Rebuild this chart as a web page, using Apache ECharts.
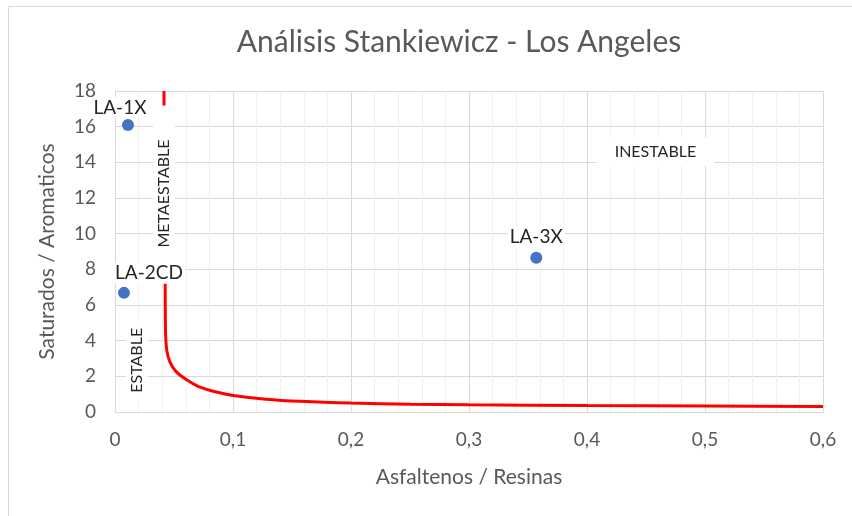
<!DOCTYPE html>
<html>
<head>
<meta charset="utf-8">
<script src="https://cdn.jsdelivr.net/npm/echarts@6/dist/echarts.min.js"></script>
<style>
  html, body { margin: 0; padding: 0; background: #fff; }
  #chart { width: 852px; height: 516px; }
</style>
</head>
<body>
<div id="chart"></div>
<script>
// muestras: [asfaltenos/resinas, saturados/aromaticos]
const sampleNames = ["LA-1X", "LA-2CD", "LA-3X"];
const sampleX = [0.011, 0.0076, 0.357];
const sampleY = [16.1, 6.68, 8.65];

// curva limite Stankiewicz
const curveX = [0.0415, 0.042, 0.0425, 0.0428, 0.0438, 0.0466, 0.052, 0.061, 0.072, 0.086, 0.1, 0.128, 0.157, 0.2, 0.25, 0.3, 0.4, 0.5, 0.6];
const curveY = [18, 12, 7.5, 4.6, 3.5, 2.8, 2.25, 1.8, 1.4, 1.12, 0.93, 0.72, 0.6, 0.5, 0.44, 0.4, 0.36, 0.33, 0.31];

// zonas
const zoneNames = ["ESTABLE", "METAESTABLE", "INESTABLE"];
const zoneX = [0.0186, 0.0415, 0.458];
const zoneY = [2.9, 12.25, 14.6];

const FONT = "Lato";
const comma = (v) => String(Number(v.toFixed(1))).replace(".", ",");

let chart = echarts.init(document.getElementById("chart"));
let option = {
  animation: false,
  textStyle: { fontFamily: FONT },
  title: {
    text: "Análisis Stankiewicz - Los Angeles",
    left: 454,
    top: 22,
    textAlign: "center",
    textStyle: { fontFamily: FONT, fontSize: 30, fontWeight: "normal", color: "#595959" },
  },
  graphic: [
    {
      type: "rect",
      shape: { x: 8.5, y: 6.5, width: 900, height: 600 },
      style: { fill: "none", stroke: "#d9d9d9", lineWidth: 1 },
      silent: true,
    },
  ],
  grid: { left: 115, right: 29, top: 91, bottom: 104 },
  xAxis: {
    type: "value",
    min: 0,
    max: 0.6,
    interval: 0.1,
    name: "Asfaltenos / Resinas",
    nameLocation: "middle",
    nameGap: 55,
    nameTextStyle: { fontFamily: FONT, fontSize: 21, color: "#595959" },
    axisLine: { show: true, lineStyle: { color: "#d9d9d9", width: 1 } },
    axisTick: { show: false },
    axisLabel: { formatter: comma, fontSize: 19, color: "#595959", margin: 18 },
    splitLine: { show: true, lineStyle: { color: "#d9d9d9", width: 1 } },
    minorSplitLine: { show: true, lineStyle: { color: "#f0f0f0", width: 1 } },
    minorTick: { show: false, splitNumber: 5 },
  },
  yAxis: {
    type: "value",
    min: 0,
    max: 18,
    interval: 2,
    name: "Saturados / Aromaticos",
    nameLocation: "middle",
    nameGap: 57,
    nameTextStyle: { fontFamily: FONT, fontSize: 21, color: "#595959" },
    axisLine: { show: true, lineStyle: { color: "#d9d9d9", width: 1 } },
    axisTick: { show: false },
    axisLabel: { fontSize: 19, color: "#595959", margin: 19 },
    splitLine: { show: true, lineStyle: { color: "#d9d9d9", width: 1 } },
  },
  series: [
    {
      type: "line",
      z: 2,
      data: curveX.map((x, i) => [x, curveY[i]]),
      smooth: 0.3,
      showSymbol: false,
      lineStyle: { color: "#ff0000", width: 3 },
    },
    {
      type: "scatter",
      z: 4,
      symbolSize: 12,
      itemStyle: { color: "#4472c4", opacity: 1 },
      data: sampleX.map((x, i) => ({
        name: sampleNames[i],
        value: [x, sampleY[i]],
        label: {
          offset: [[-8, 1], [25, -1], [0, -2]][i],
        },
      })),
      label: {
        show: true,
        position: "top",
        distance: 2,
        formatter: (p) => p.name,
        fontFamily: FONT,
        fontSize: 19,
        color: "#262626",
        backgroundColor: "#fff",
        padding: [1, 2],
      },
    },
    {
      type: "scatter",
      z: 3,
      symbolSize: 0,
      silent: true,
      itemStyle: { opacity: 1 },
      data: zoneX.map((x, i) => ({
        name: zoneNames[i],
        value: [x, zoneY[i]],
        label: [
          { rotate: 90, padding: [3, 6] },
          { rotate: 90, padding: [3, 34] },
          { rotate: 0, padding: [6, 18] },
        ][i],
      })),
      label: {
        show: true,
        position: "inside",
        formatter: (p) => p.name,
        fontFamily: FONT,
        fontSize: 16,
        color: "#262626",
        backgroundColor: "#fff",
      },
    },
  ],
};
chart.setOption(option);
</script>
</body>
</html>
